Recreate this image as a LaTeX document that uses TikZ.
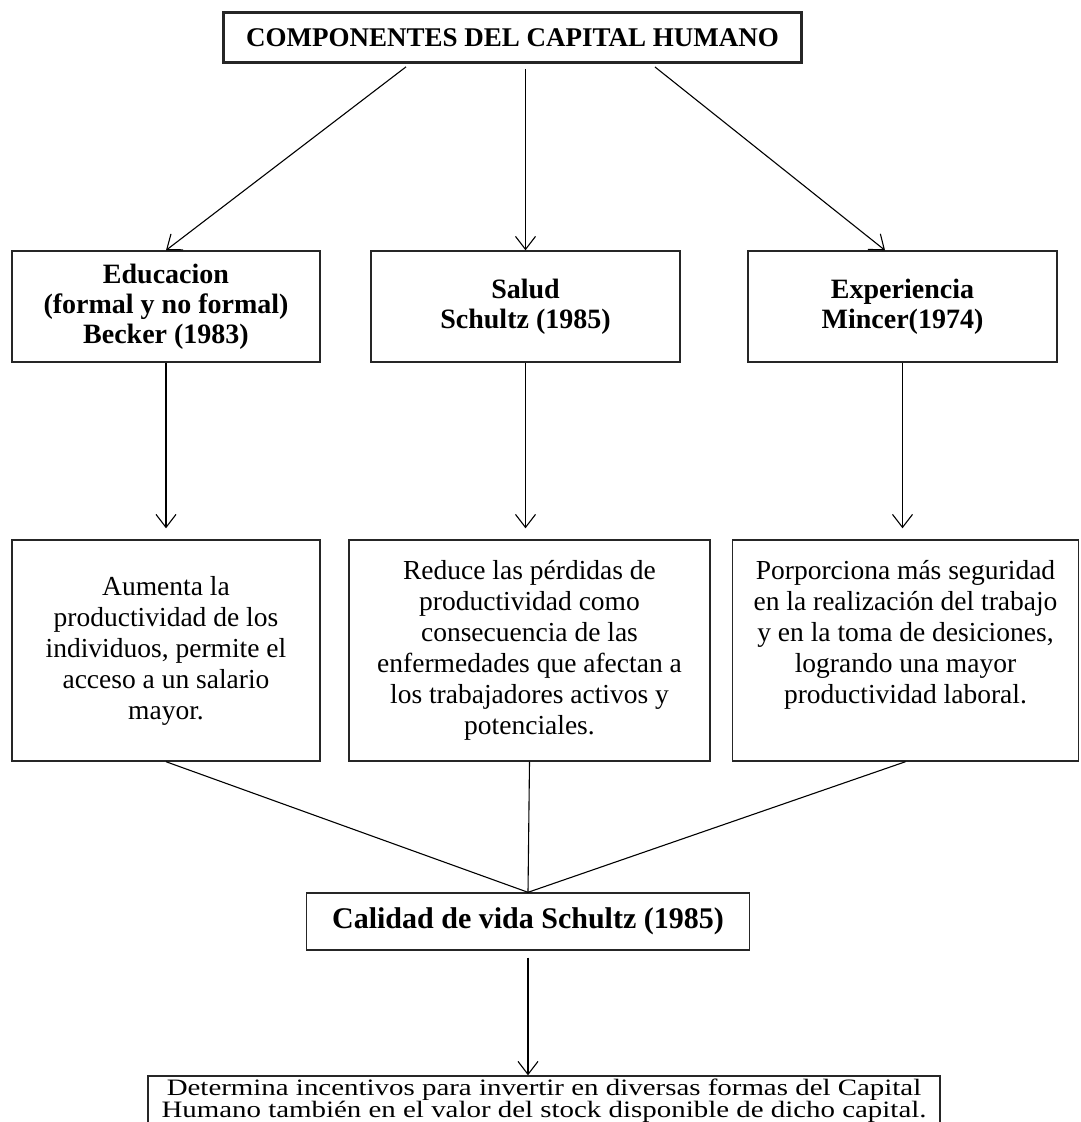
\documentclass[tikz,border=0pt]{standalone}
\usepackage{fontspec}
\setmainfont{Liberation Serif}
\newfontfamily\anchafont[FakeStretch=1.23]{Liberation Serif}
\usetikzlibrary{positioning, arrows.meta}

\begin{document}
\begin{tikzpicture}[x=1pt,y=-1pt,->,>={Straight Barb[length=13pt,width=20pt]},line width=1.1pt]
\tikzstyle{caja}=[draw=black!85,line width=1.4pt,align=center,inner sep=0pt,font=\fontsize{27.5}{31}\selectfont]
\tikzstyle{cabeza}=[caja,minimum height=111pt,font=\bfseries\fontsize{28}{30}\selectfont]
\tikzstyle{texto}=[caja,minimum height=221pt]
\useasboundingbox (0,0) rectangle (1081,1122);

\node[cabeza,line width=2.6pt,minimum width=578pt,minimum height=50pt,font=\bfseries\fontsize{27}{30}\selectfont] (C) at (512.5,37.5) {COMPONENTES DEL CAPITAL HUMANO};

\node[cabeza,minimum width=308pt] (E) at (166,306.5) {Educacion\\(formal y no formal)\\Becker (1983)};
\node[cabeza,minimum width=309pt] (S) at (525.5,306.5) {Salud\\Schultz (1985)};
\node[cabeza,minimum width=309pt] (X) at (902.5,306.5) {Experiencia\\Mincer(1974)};

\node[texto,minimum width=308pt] (E1) at (166,650.5) {Aumenta la\\productividad de los\\individuos, permite el\\acceso a un salario\\mayor.};
\node[texto,minimum width=361pt] (S1) at (529.5,650.5) {Reduce las p\'erdidas de\\productividad como\\consecuencia de las\\enfermedades que afectan a\\los trabajadores activos y\\potenciales.};
\node[texto,minimum width=346pt] (X1) at (905.5,650.5) {Porporciona m\'as seguridad\\en la realizaci\'on del trabajo\\y en la toma de desiciones,\\logrando una mayor\\productividad laboral.\\[6pt]};

\node[cabeza,minimum width=443pt,minimum height=57pt,font=\bfseries\fontsize{30}{30}\selectfont] (V) at (528,921.5) {Calidad de vida Schultz (1985)};
\node[caja,minimum width=792pt,minimum height=50pt,font=\anchafont\fontsize{23.5}{22}\selectfont] (D) at (544,1101) {Determina incentivos para invertir en diversas formas del Capital\\Humano tambi\'en en el valor del stock disponible de dicho capital.};

\path[shorten <=5pt]
([xshift=-102.5pt]C.south) edge (E.north)
(C.south -| S.north) edge (S.north)
([xshift=138.5pt]C.south) edge ([xshift=-17.5pt]X.north);

\path[shorten >=11pt]
(E.south) edge (E1.north)
(S.south) edge (S.south |- S1.north)
(X.south) edge (X.south |- X1.north);

\path[-]
(E1.south) edge (V.north)
(S1.south) edge (V.north)
(X1.south) edge (V.north);

\draw[shorten <=7pt] (V.south) -- (V.south |- D.north);
\end{tikzpicture}
\end{document}
